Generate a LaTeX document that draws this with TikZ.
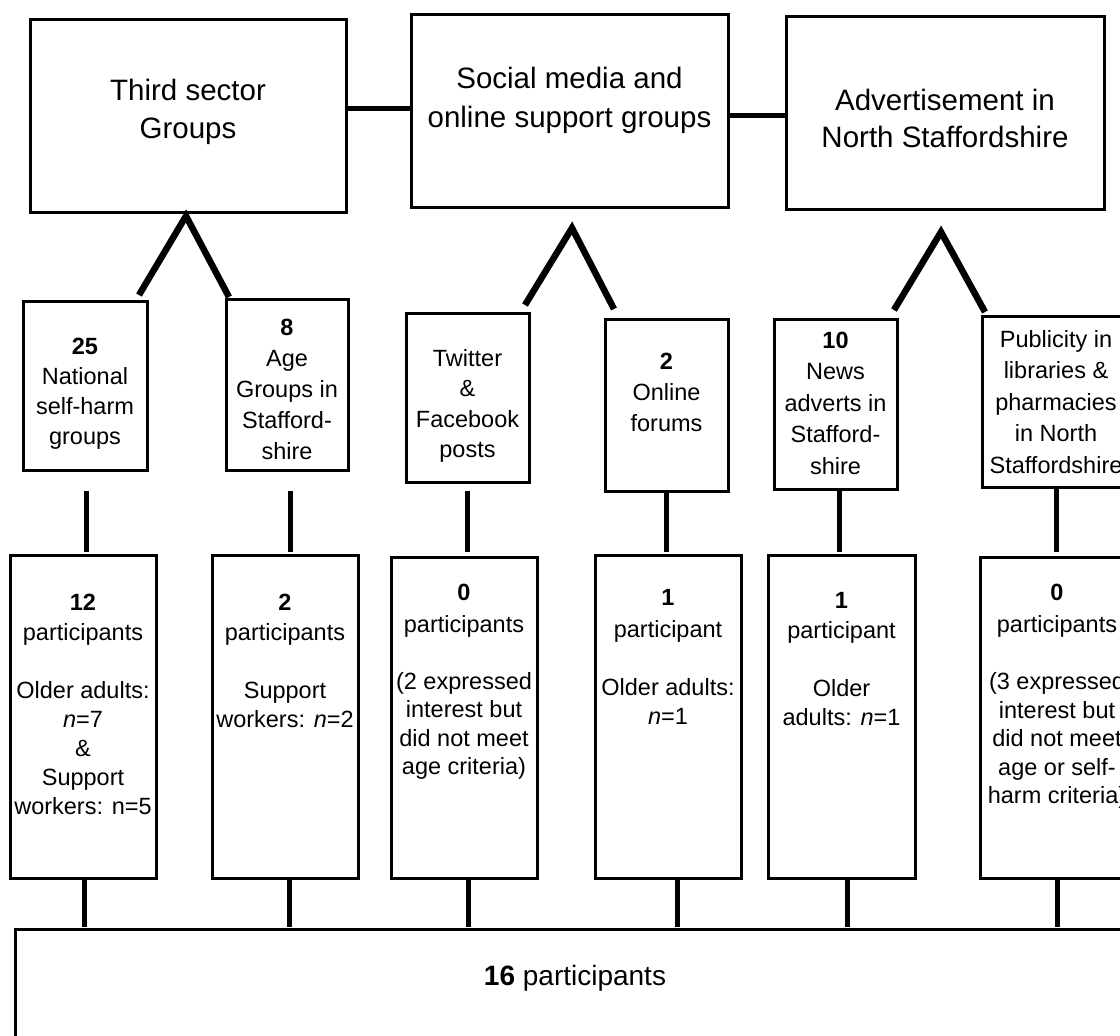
\documentclass[tikz,border=0pt]{standalone}
\usepackage{fontspec}
\setmainfont{Liberation Sans}
\usetikzlibrary{calc}
\newcommand\bxt[6]{\parbox[c][#2pt][t]{#1pt}{\centering\fontsize{#3pt}{#4pt}\selectfont\rule{0pt}{#5pt}#6\par}}
\tikzset{
  bx/.style={draw, line width=3pt, inner sep=0pt, outer sep=0pt},
  vln/.style={line width=5pt},
  hln/.style={line width=5pt},
  leg/.style={line width=6.5pt, line join=miter}
}
\begin{document}
\begin{tikzpicture}[x=1pt,y=-1pt]
\useasboundingbox (0,0) rectangle (1120,1036);
\clip (0,0) rectangle (1120,1036);
\fill[white] (0,0) rectangle (1120,1036);

% top boxes
\node[bx] (T1) at (188,115.5) {\bxt{316}{193}{29.5}{38}{81}{Third sector\\Groups}};
\node[bx] (T2) at (569.5,110.5) {\bxt{317}{193}{29.5}{39}{74}{Social media and\\online support groups}};
\node[bx] (T3) at (945,112.5) {\bxt{318}{193}{29.5}{37}{94}{Advertisement in\\North Staffordshire}};

% middle boxes
\node[bx] (M1) at (85,385.5) {\bxt{124}{169}{23.5}{30}{53}{\textbf{25}\\National\\self-harm\\groups}};
\node[bx] (M2) at (287,384.5) {\bxt{122}{171}{23.5}{31}{36}{\textbf{8}\\Age\\Groups in\\Stafford-\\shire}};
\node[bx] (M3) at (467.5,397.5) {\bxt{123}{169}{23.5}{30.5}{53}{Twitter\\\&\\Facebook\\posts}};
\node[bx] (M4) at (666.5,405) {\bxt{123}{172}{23.5}{31}{50}{\textbf{2}\\Online\\forums}};
\node[bx] (M5) at (835.5,404) {\bxt{123}{170}{23.5}{31.5}{29}{\textbf{10}\\News\\adverts in\\Stafford-\\shire}};
\node[bx] (M6) at (1056,401.5) {\bxt{148}{171}{23.5}{31.5}{31}{Publicity in\\libraries \&\\pharmacies\\in North\\Staffordshire}};

% participant boxes
\node[bx] (P1) at (83,716.5) {\bxt{146}{323}{23.5}{29}{55}{\textbf{12}\\[1pt]participants\\[29pt]Older adults:\\\textit{n}=7\\\&\\Support\\workers: n=5}};
\node[bx] (P2) at (285,716.5) {\bxt{146}{323}{23.5}{29}{55}{\textbf{2}\\[1pt]participants\\[29pt]Support\\workers: \textit{n}=2}};
\node[bx] (P3) at (464,717.5) {\bxt{146}{321}{23.5}{28.5}{43}{\textbf{0}\\[3.5pt]participants\\[28.5pt](2 expressed\\interest but\\did not meet\\age criteria)}};
\node[bx] (P4) at (668,716.5) {\bxt{146}{323}{23.5}{29}{50}{\textbf{1}\\[3pt]participant\\[29pt]Older adults:\\\textit{n}=1}};
\node[bx] (P5) at (841.5,716.5) {\bxt{147}{323}{23.5}{29}{53}{\textbf{1}\\[1pt]participant\\[29pt]Older\\adults: \textit{n}=1}};
\node[bx] (P6) at (1057,717.5) {\bxt{154}{321}{23.5}{28.5}{43}{\textbf{0}\\[4pt]participants\\[28.5pt](3 expressed\\interest but\\did not meet\\age or self-\\harm criteria)}};

% bottom box
\node[bx] (B) at (575,1014.5) {\bxt{1120}{171}{28}{34}{56}{\textbf{16} participants}};

% top connectors
\coordinate (c1) at ($(T1.east)+(0,-7.5)$);
\draw[hln] (c1) -- (c1 -| T2.west);
\coordinate (c2) at ($(T2.east)+(0,4.5)$);
\draw[hln] (c2) -- (c2 -| T3.west);

% branching legs
\coordinate (ap1) at ($(T1.south)+(-2,4)$);
\coordinate (ap2) at ($(T2.south)+(2.5,21)$);
\coordinate (ap3) at ($(T3.south)+(-4,23)$);
\draw[leg] ($(M1.north east)+(-8,-6)$) -- (ap1) -- ($(M2.north west)+(3,-2)$);
\draw[leg] ($(M3.north east)+(-4,-8)$) -- (ap2) -- ($(M4.north west)+(9,-10)$);
\draw[leg] ($(M5.north east)+(-3,-9)$) -- (ap3) -- ($(M6.north west)+(3,-4)$);

% middle to participant boxes
\draw[vln, shorten <=21pt, shorten >=3pt] ($(M1.south)+(1,0)$) -- ($(M1.south |- P1.north)+(1,0)$);
\draw[vln, shorten <=21pt, shorten >=3pt] ($(M2.south)+(3,0)$) -- ($(M2.south |- P2.north)+(3,0)$);
\draw[vln, shorten <=9pt, shorten >=5pt] (M3.south) -- (M3.south |- P3.north);
\draw[vln, shorten >=3pt] (M4.south) -- (M4.south |- P4.north);
\draw[vln, shorten >=3pt] ($(M5.south)+(3.5,0)$) -- ($(M5.south |- P5.north)+(3.5,0)$);
\draw[vln, shorten >=5pt] (M6.south) -- (M6.south |- P6.north);

% participant boxes to total
\draw[vln, shorten >=2pt] ($(P1.south)+(1,0)$) -- ($(P1.south |- B.north)+(1,0)$);
\draw[vln, shorten >=2pt] ($(P2.south)+(4,0)$) -- ($(P2.south |- B.north)+(4,0)$);
\draw[vln, shorten >=2pt] ($(P3.south)+(4,0)$) -- ($(P3.south |- B.north)+(4,0)$);
\draw[vln, shorten >=2pt] ($(P4.south)+(9,0)$) -- ($(P4.south |- B.north)+(9,0)$);
\draw[vln, shorten >=2pt] ($(P5.south)+(5.5,0)$) -- ($(P5.south |- B.north)+(5.5,0)$);
\draw[vln, shorten >=2pt] (P6.south) -- (P6.south |- B.north);
\end{tikzpicture}
\end{document}
